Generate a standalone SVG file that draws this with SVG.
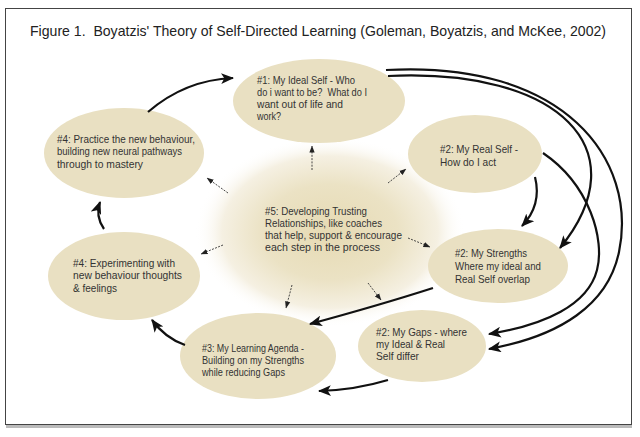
<svg xmlns="http://www.w3.org/2000/svg" width="640" height="437" viewBox="0 0 640 437">
<defs>
<radialGradient id="glow" cx="0.5" cy="0.5" r="0.5">
<stop offset="0" stop-color="#e6dab3"/>
<stop offset="0.5" stop-color="#ebe2c4"/>
<stop offset="0.8" stop-color="#f5f0e2"/>
<stop offset="1" stop-color="#ffffff" stop-opacity="0"/>
</radialGradient>
<marker id="ah" viewBox="0 0 12 10" refX="11" refY="5" markerWidth="13" markerHeight="11" markerUnits="userSpaceOnUse" orient="auto">
<path d="M0,0 L12,5 L0,10 L3,5 z" fill="#111"/>
</marker>
<marker id="sh" viewBox="0 0 8 6" refX="7.5" refY="3" markerWidth="7" markerHeight="6" markerUnits="userSpaceOnUse" orient="auto">
<path d="M0,0 L8,3 L0,6 z" fill="#222"/>
</marker>
</defs>
<style>
.node{fill:#e9e0c2}
.t{font-family:"Liberation Sans",Arial,sans-serif;font-size:11px;fill:#333}
.title{font-family:"Liberation Sans",Arial,sans-serif;font-size:14.5px;fill:#222}
.thick{fill:none;stroke:#111;stroke-width:2.2}
.dot{fill:none;stroke:#333;stroke-width:0.9;stroke-dasharray:2 1.3}
</style>
<rect x="0" y="0" width="640" height="437" fill="#fff"/>
<line x1="6" y1="426.5" x2="632" y2="426.5" stroke="#bbb" stroke-width="3"/>
<rect x="5.5" y="8.5" width="626" height="416" fill="#fff" stroke="#444" stroke-width="1"/>
<text class="title" x="30" y="36" textLength="576" lengthAdjust="spacingAndGlyphs" xml:space="preserve">Figure 1.  Boyatzis' Theory of Self-Directed Learning (Goleman, Boyatzis, and McKee, 2002)</text>

<g id="n5">
<ellipse cx="330" cy="232" rx="135" ry="95" fill="url(#glow)"/>
<text class="t" x="265" y="215" textLength="102" lengthAdjust="spacingAndGlyphs">#5: Developing Trusting</text>
<text class="t" x="265" y="227" textLength="117" lengthAdjust="spacingAndGlyphs">Relationships, like coaches</text>
<text class="t" x="265" y="239" textLength="137" lengthAdjust="spacingAndGlyphs">that help, support &amp; encourage</text>
<text class="t" x="265" y="251" textLength="115" lengthAdjust="spacingAndGlyphs">each step in the process</text>
</g>

<g id="n1">
<ellipse class="node" cx="319" cy="101" rx="86" ry="42"/>
<text class="t" x="257" y="84" textLength="98" lengthAdjust="spacingAndGlyphs">#1: My Ideal Self - Who</text>
<text class="t" x="257" y="96" textLength="110" lengthAdjust="spacingAndGlyphs" xml:space="preserve">do i want to be?  What do I</text>
<text class="t" x="257" y="108" textLength="86" lengthAdjust="spacingAndGlyphs">want out of life and</text>
<text class="t" x="257" y="120" textLength="24" lengthAdjust="spacingAndGlyphs">work?</text>
</g>

<g id="n2real">
<ellipse class="node" cx="475" cy="154" rx="67" ry="39"/>
<text class="t" x="440" y="153" textLength="78" lengthAdjust="spacingAndGlyphs">#2: My Real Self -</text>
<text class="t" x="440" y="166" textLength="56" lengthAdjust="spacingAndGlyphs">How do I act</text>
</g>

<g id="n2strengths">
<ellipse class="node" cx="498" cy="266" rx="70" ry="37"/>
<text class="t" x="455" y="257" textLength="72" lengthAdjust="spacingAndGlyphs">#2: My Strengths</text>
<text class="t" x="455" y="270" textLength="86" lengthAdjust="spacingAndGlyphs">Where my ideal and</text>
<text class="t" x="455" y="283" textLength="75" lengthAdjust="spacingAndGlyphs">Real Self overlap</text>
</g>

<g id="n2gaps">
<ellipse class="node" cx="422" cy="346" rx="64" ry="36"/>
<text class="t" x="376" y="336" textLength="91" lengthAdjust="spacingAndGlyphs">#2: My Gaps - where</text>
<text class="t" x="376" y="348" textLength="69" lengthAdjust="spacingAndGlyphs">my Ideal &amp; Real</text>
<text class="t" x="376" y="360" textLength="43" lengthAdjust="spacingAndGlyphs">Self differ</text>
</g>

<g id="n3">
<ellipse class="node" cx="258" cy="356" rx="78" ry="43"/>
<text class="t" x="202" y="352" textLength="102" lengthAdjust="spacingAndGlyphs">#3: My Learning Agenda -</text>
<text class="t" x="202" y="364" textLength="102" lengthAdjust="spacingAndGlyphs">Building on my Strengths</text>
<text class="t" x="202" y="376" textLength="83" lengthAdjust="spacingAndGlyphs">while reducing Gaps</text>
</g>

<g id="n4exp">
<ellipse class="node" cx="124" cy="276" rx="76" ry="44"/>
<text class="t" x="73" y="267" textLength="102" lengthAdjust="spacingAndGlyphs">#4: Experimenting with</text>
<text class="t" x="73" y="279" textLength="109" lengthAdjust="spacingAndGlyphs">new behaviour thoughts</text>
<text class="t" x="73" y="292" textLength="44" lengthAdjust="spacingAndGlyphs">&amp; feelings</text>
</g>

<g id="n4prac">
<ellipse class="node" cx="124" cy="153" rx="80" ry="45"/>
<text class="t" x="57" y="143" textLength="138" lengthAdjust="spacingAndGlyphs">#4: Practice the new behaviour,</text>
<text class="t" x="57" y="155" textLength="125" lengthAdjust="spacingAndGlyphs">building new neural pathways</text>
<text class="t" x="57" y="168" textLength="86" lengthAdjust="spacingAndGlyphs">through to mastery</text>
</g>

<g id="connectors">
<path class="thick" d="M148,112 Q185,80 233,78" marker-end="url(#ah)"/>
<path class="thick" d="M104,229 Q95,216 100,202" marker-end="url(#ah)"/>
<path class="thick" d="M185,345 Q165,338 152,320" marker-end="url(#ah)"/>
<path class="thick" d="M433,288 Q380,305 310,324" marker-end="url(#ah)"/>
<path class="thick" d="M388,380 Q355,390 319,391" marker-end="url(#ah)"/>
<path class="thick" d="M535,177 Q542,205 522,226" marker-end="url(#ah)"/>
<path class="thick" d="M388,76 C560,68 640,150 560,248" marker-end="url(#ah)"/>
<path class="thick" d="M386,70 C565,60 638,160 619,252 C608,305 560,336 489,349" marker-end="url(#ah)"/>
<path class="thick" d="M543,153 C590,185 605,240 597,270 C588,305 545,325 489,334" marker-end="url(#ah)"/>
<path class="dot" d="M312,170 L312,146" marker-end="url(#sh)"/>
<path class="dot" d="M228,193 L207,178" marker-end="url(#sh)"/>
<path class="dot" d="M223,245 L201,254" marker-end="url(#sh)"/>
<path class="dot" d="M292,285 L286,308" marker-end="url(#sh)"/>
<path class="dot" d="M368,283 L381,300" marker-end="url(#sh)"/>
<path class="dot" d="M408,238 L430,247" marker-end="url(#sh)"/>
<path class="dot" d="M388,183 L406,169" marker-end="url(#sh)"/>
</g>
</svg>
